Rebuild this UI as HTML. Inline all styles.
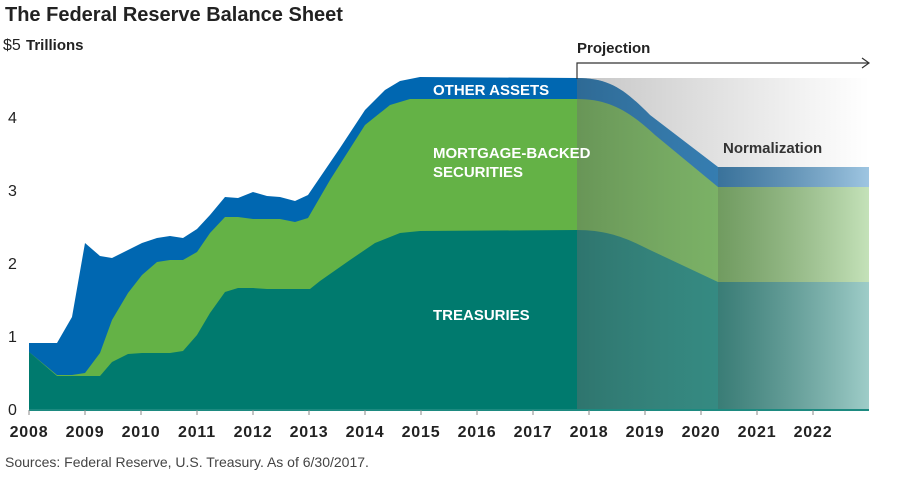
<!DOCTYPE html>
<html><head><meta charset="utf-8"><style>
body{margin:0;background:#fff;width:916px;height:472px;overflow:hidden;font-family:"Liberation Sans",sans-serif}
</style></head><body>
<svg width="916" height="472" xmlns="http://www.w3.org/2000/svg" font-family="Liberation Sans, sans-serif">
<defs>
<linearGradient id="bg" x1="0" x2="1"><stop offset="0" stop-color="#c6c6c6"/><stop offset="1" stop-color="#fff"/></linearGradient>
<linearGradient id="o1" x1="0" x2="1"><stop offset="0" stop-color="#6e6e6e" stop-opacity="0.42"/><stop offset="1" stop-color="#b0b0b0" stop-opacity="0.3"/></linearGradient>
<linearGradient id="o2" x1="0" x2="1"><stop offset="0" stop-color="#808080" stop-opacity="0.45"/><stop offset="1" stop-color="#fff" stop-opacity="0.62"/></linearGradient>
<clipPath id="cp"><path d="M29,343 L57,343 L72,317 L85,243 L100,256 L112,258 L128,250 L142,243 L157,238 L170,236 L183,238 L197,229 L210,215 L225,197 L238,198 L253,192 L267,196 L280,197 L295,201 L308,195 L340,148 L365,110 L385,90 L400,81 L420,77 L577,78 C610,78 625,90 650,115 L718,167 L869,167 L869,410 L29,410 Z"/></clipPath>
</defs>
<text x="5" y="21" font-size="20" font-weight="bold" fill="#222">The Federal Reserve Balance Sheet</text>
<rect x="577" y="78" width="292" height="332" fill="url(#bg)"/>
<path fill="#0067b1" d="M29,343 L57,343 L72,317 L85,243 L100,256 L112,258 L128,250 L142,243 L157,238 L170,236 L183,238 L197,229 L210,215 L225,197 L238,198 L253,192 L267,196 L280,197 L295,201 L308,195 L340,148 L365,110 L385,90 L400,81 L420,77 L577,78 C610,78 625,90 650,115 L718,167 L869,167 L869,410 L29,410 Z"/>
<path fill="#64b246" d="M29,352 L57,375 L72,375 L85,373 L100,353 L112,320 L128,293 L142,275 L157,262 L170,260 L183,260 L197,252 L210,233 L225,217 L238,217 L253,219 L267,219 L280,219 L295,222 L308,218 L330,180 L365,125 L390,105 L410,99 L577,99 C610,99 630,112 655,135 L718,187 L869,187 L869,410 L29,410 Z"/>
<path fill="#007a6e" d="M29,352 L57,376 L85,376 L100,376 L112,362 L128,354 L142,353 L170,353 L183,351 L197,335 L210,313 L225,292 L238,288 L253,288 L267,289 L295,289 L310,289 L320,281 L350,260 L375,243 L400,233 L420,231 L577,230 C610,230 630,240 650,250 L718,282 L869,282 L869,410 L29,410 Z"/>
<g clip-path="url(#cp)">
<rect x="577" y="60" width="141" height="350" fill="url(#o1)"/>
<rect x="718" y="60" width="151" height="350" fill="url(#o2)"/>
</g>
<line x1="29" y1="410" x2="869" y2="410" stroke="#1d8a80" stroke-width="2"/>
<g stroke="#888" stroke-width="1">
<line x1="29" y1="410" x2="29" y2="415"/><line x1="85" y1="410" x2="85" y2="415"/><line x1="141" y1="410" x2="141" y2="415"/><line x1="197" y1="410" x2="197" y2="415"/><line x1="253" y1="410" x2="253" y2="415"/><line x1="309" y1="410" x2="309" y2="415"/><line x1="365" y1="410" x2="365" y2="415"/><line x1="421" y1="410" x2="421" y2="415"/><line x1="477" y1="410" x2="477" y2="415"/><line x1="533" y1="410" x2="533" y2="415"/><line x1="589" y1="410" x2="589" y2="415"/><line x1="645" y1="410" x2="645" y2="415"/><line x1="701" y1="410" x2="701" y2="415"/><line x1="757" y1="410" x2="757" y2="415"/><line x1="813" y1="410" x2="813" y2="415"/>
</g>
<g font-size="16" font-weight="bold" fill="#222" text-anchor="middle" letter-spacing="0.8">
<text x="29" y="437">2008</text><text x="85" y="437">2009</text><text x="141" y="437">2010</text><text x="197" y="437">2011</text><text x="253" y="437">2012</text><text x="309" y="437">2013</text><text x="365" y="437">2014</text><text x="421" y="437">2015</text><text x="477" y="437">2016</text><text x="533" y="437">2017</text><text x="589" y="437">2018</text><text x="645" y="437">2019</text><text x="701" y="437">2020</text><text x="757" y="437">2021</text><text x="813" y="437">2022</text>
</g>
<g font-size="16" fill="#222">
<text x="8" y="415">0</text><text x="8" y="342">1</text><text x="8" y="269">2</text><text x="8" y="196">3</text><text x="8" y="123">4</text>
<text x="3" y="50">$5</text><text x="26" y="50" font-weight="bold" font-size="15">Trillions</text>
</g>
<g font-size="15" font-weight="bold" fill="#fff">
<text x="433" y="95">OTHER ASSETS</text>
<text x="433" y="158">MORTGAGE-BACKED</text>
<text x="433" y="177">SECURITIES</text>
<text x="433" y="320">TREASURIES</text>
</g>
<text x="577" y="53" font-size="15" font-weight="bold" fill="#222">Projection</text>
<text x="723" y="153" font-size="15" font-weight="bold" fill="#333">Normalization</text>
<path d="M577,79 L577,63 L868,63" fill="none" stroke="#333" stroke-width="1.2"/>
<path d="M862,58 L869,63 L862,68" fill="none" stroke="#333" stroke-width="1.2"/>
<text x="5" y="467" font-size="14" fill="#444">Sources: Federal Reserve, U.S. Treasury. As of 6/30/2017.</text>
</svg>
</body></html>
